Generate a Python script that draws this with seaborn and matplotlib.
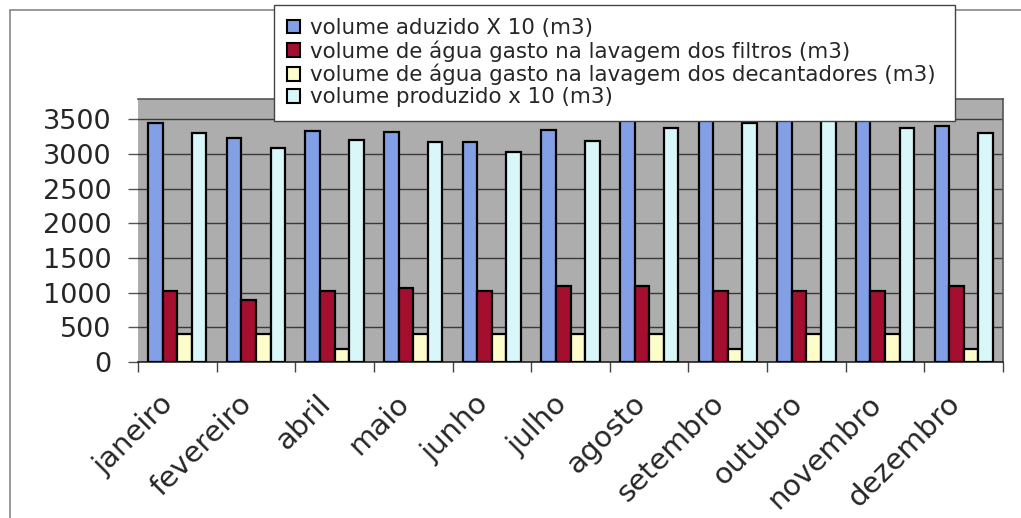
import matplotlib
matplotlib.use("Agg")
import matplotlib.pyplot as plt
from matplotlib.lines import Line2D
from matplotlib.patches import Patch
from matplotlib.transforms import ScaledTranslation
import numpy as np
import pandas as pd
import seaborn as sns

# Monthly volumes of the treatment plant
meses = ["janeiro", "fevereiro", "abril", "maio", "junho", "julho",
         "agosto", "setembro", "outubro", "novembro", "dezembro"]
aduzido_x10 = [3450, 3230, 3330, 3320, 3170, 3340, 3560, 3600, 3650, 3580, 3400]
lavagem_filtros = [1020, 900, 1020, 1070, 1020, 1100, 1100, 1020, 1020, 1020, 1100]
lavagem_decantadores = [400, 400, 190, 400, 400, 400, 400, 190, 400, 400, 190]
produzido_x10 = [3300, 3090, 3200, 3170, 3020, 3190, 3370, 3440, 3560, 3370, 3300]

series = ["volume aduzido X 10 (m3)",
          "volume de água gasto na lavagem dos filtros (m3)",
          "volume de água gasto na lavagem dos decantadores (m3)",
          "volume produzido x 10 (m3)"]
cores = ["#83a0e6", "#a50f2f", "#fdfccb", "#d9f6f8"]
y_ticks = [0, 500, 1000, 1500, 2000, 2500, 3000, 3500]

df = pd.DataFrame({
    "mes": meses * 4,
    "serie": np.repeat(series, len(meses)),
    "valor": aduzido_x10 + lavagem_filtros + lavagem_decantadores + produzido_x10,
})

sns.set_style("white")
plt.rcParams["font.family"] = ["DejaVu Sans"]

W, H = 1021, 518
fig = plt.figure(figsize=(W / 100, H / 100), dpi=100)
fig.patch.set_facecolor("white")

ax = fig.add_axes([138 / W, 1 - 362 / H, (1003 - 138) / W, (362 - 99) / H])
ax.set_facecolor("#adadad")

sns.barplot(data=df, x="mes", y="valor", hue="serie", hue_order=series,
            order=meses, palette=cores, width=0.74, gap=0.0,
            edgecolor="black", linewidth=1.6, saturation=1, ax=ax,
            legend=False, zorder=3)

ax.set_ylim(0, 3790)
ax.set_xlim(-0.5, len(meses) - 0.5)
ax.set_yticks(y_ticks)
ax.set_yticklabels([str(v) for v in y_ticks], fontsize=19.5)
ax.yaxis.grid(True, color="#3a3a3a", linewidth=1.0, zorder=1)
ax.set_axisbelow(True)
ax.tick_params(axis="y", direction="out", length=7, width=1, color="#555555",
               pad=12, left=True)

# category boundaries as minor ticks, labels at centres
ax.set_xticks(np.arange(len(meses)))
ax.set_xticks(np.arange(len(meses) + 1) - 0.5, minor=True)
ax.tick_params(axis="x", which="major", length=0, pad=27)
ax.tick_params(axis="x", which="minor", direction="out", length=7, width=1,
               color="#444444", bottom=True)
ax.set_xticklabels(meses, rotation=45, ha="right", rotation_mode="anchor",
                   fontsize=21, va="center")
shift = ScaledTranslation(-8 / 100, 0, fig.dpi_scale_trans)
for lbl in ax.get_xticklabels():
    lbl.set_transform(lbl.get_transform() + shift)
ax.set_xlabel("")
ax.set_ylabel("")

ax.spines["left"].set_visible(False)
ax.spines["bottom"].set_color("#222222")
ax.spines["bottom"].set_linewidth(1.2)
for side in ["top", "right"]:
    ax.spines[side].set_color("#555555")
    ax.spines[side].set_linewidth(1.2)

# chart area border
fig.add_artist(Line2D([10 / W, 10 / W], [1 - 10 / H, 0], color="#888888",
                      linewidth=1.2, transform=fig.transFigure))
fig.add_artist(Line2D([10 / W, 1], [1 - 10 / H, 1 - 10 / H], color="#888888",
                      linewidth=1.2, transform=fig.transFigure))

handles = [Patch(facecolor=c, edgecolor="black", linewidth=1.5) for c in cores]
leg = fig.legend(handles, series, loc="upper left",
                 bbox_to_anchor=(274 / W, 1 - 10 / H, (955 - 274) / W, 0.01),
                 mode="expand", borderaxespad=0, fontsize=15.4,
                 handlelength=0.6, handleheight=0.6, handletextpad=0.45,
                 labelspacing=0.1, borderpad=0.62, fancybox=False,
                 framealpha=1, edgecolor="#444444")
leg.get_frame().set_linewidth(1.0)

fig.savefig("out.png", dpi=100)
